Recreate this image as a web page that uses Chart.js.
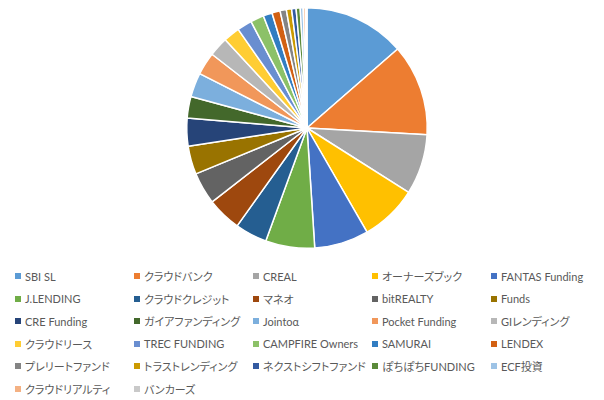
<!DOCTYPE html>
<html lang="ja">
<head>
<meta charset="utf-8">
<title>Share by platform</title>
<script src="https://cdn.jsdelivr.net/npm/chart.js@4/dist/chart.umd.min.js"></script>
<style>
  html, body { margin: 0; padding: 0; background: #fff; }
  #wrap { position: relative; width: 604px; height: 400px; overflow: hidden; }
  #pieBox { position: absolute; left: 0; top: 0; width: 604px; height: 256px; }
  #legend {
    position: absolute; left: 15px; top: 265px; width: 595px;
    display: grid; grid-template-columns: repeat(5, 119px); grid-auto-rows: 22.5px;
    font-family: Lato, "Noto Sans CJK JP", sans-serif; font-size: 11px; color: #595959;
    font-feature-settings: "palt";
  }
  #legend .item { display: flex; align-items: center; white-space: nowrap; }
  #legend .box { width: 6px; height: 6px; margin-right: 4px; flex: none; }
</style>
</head>
<body>
<div id="wrap">
  <div id="pieBox"><canvas id="pie"></canvas></div>
  <div id="legend"></div>
</div>
<script>
// platforms, in chart order
const names = [
  "SBI SL", "クラウドバンク", "CREAL", "オーナーズブック", "FANTAS Funding",
  "J.LENDING", "クラウドクレジット", "マネオ", "bitREALTY", "Funds",
  "CRE Funding", "ガイアファンディング", "Jointoα", "Pocket Funding", "GIレンディング",
  "クラウドリース", "TREC FUNDING", "CAMPFIRE Owners", "SAMURAI", "LENDEX",
  "プレリートファンド", "トラストレンディング", "ネクストシフトファンド", "ぽちぽちFUNDING", "ECF投資",
  "クラウドリアルティ", "バンカーズ"
];

// share (%)
const shares = [
  13.6, 12.3, 8.1, 7.7, 7.3,
  6.6, 4.3, 4.6, 4.3, 3.8,
  3.75, 2.9, 3.25, 3.05, 2.6,
  2.2, 2.0, 1.8, 1.2, 1.1,
  0.85, 0.7, 0.6, 0.55, 0.4,
  0.3, 0.2
];

// office default palette
const palette = [
  "#5B9BD5", "#ED7D31", "#A5A5A5", "#FFC000", "#4472C4",
  "#70AD47", "#255E91", "#9E480E", "#636363", "#997300",
  "#264478", "#43682B", "#7CAFDD", "#F1975A", "#B7B7B7",
  "#FFCD33", "#698ED0", "#8CC168", "#327DC2", "#D26012",
  "#848484", "#CC9A00", "#335AA1", "#5A8A39", "#9DC3E6",
  "#F4B183", "#C9C9C9"
];

// legend as a grid, filled from the chart's own label items
const htmlLegend = {
  id: 'htmlLegend',
  afterUpdate(chart) {
    const box = document.getElementById('legend');
    box.innerHTML = '';
    const items = chart.options.plugins.legend.labels.generateLabels(chart);
    items.forEach(it => {
      const row = document.createElement('div');
      row.className = 'item';
      const sq = document.createElement('span');
      sq.className = 'box';
      sq.style.background = it.fillStyle;
      const txt = document.createElement('span');
      txt.textContent = it.text;
      row.appendChild(sq);
      row.appendChild(txt);
      box.appendChild(row);
    });
  }
};

new Chart(document.getElementById('pie'), {
  type: 'pie',
  data: {
    labels: names,
    datasets: [{
      data: shares,
      backgroundColor: palette,
      borderColor: '#fff',
      borderWidth: 1.5
    }]
  },
  options: {
    responsive: true,
    maintainAspectRatio: false,
    animation: false,
    layout: { padding: { left: 10, top: 7, bottom: 7 } },
    plugins: {
      legend: { display: false },
      tooltip: { enabled: false }
    }
  },
  plugins: [htmlLegend]
});
</script>
</body>
</html>
